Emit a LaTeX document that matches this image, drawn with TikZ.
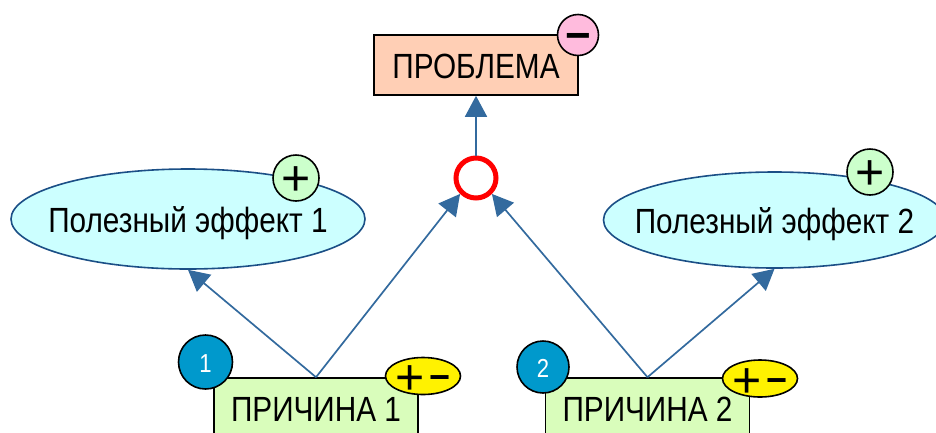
\documentclass[tikz,border=0pt]{standalone}
\usepackage{fontspec}
\setmainfont[FakeStretch=0.85]{Liberation Sans}
\newfontfamily\signfont{Liberation Sans}
\usetikzlibrary{arrows.meta}
\usetikzlibrary{shapes.geometric}
\newcommand{\smallminus}{\raisebox{5pt}{\fontsize{36}{36}\selectfont\bfseries −}}

\begin{document}
\begin{tikzpicture}[x=1pt,y=-1pt]
  \tikzset{myedge/.style={-{Triangle[length=21pt,width=22pt]}, draw=edgeblue, fill=edgeblue, line width=1.7pt}};
  \tikzset{mybox/.style={rectangle, draw=black, line width=1.6pt, minimum width=204pt, minimum height=60pt, inner sep=0pt, text height=27pt, text depth=0pt, font=\fontsize{35}{35}\selectfont}};
  \tikzset{myeffect/.style={ellipse, draw=effectblue, fill=effectfill, line width=1.6pt, inner xsep=-25pt, inner ysep=0pt, text height=27pt, text depth=0pt, font=\fontsize{35}{35}\selectfont}};
  \tikzset{mybadge/.style={circle, draw=black, line width=1.6pt, inner sep=0pt, minimum size=#1}};
  \tikzset{mysign/.style={ellipse, draw=black, fill=yellow, line width=1.6pt, inner xsep=-25pt, inner ysep=-12pt, minimum width=75pt, minimum height=37pt, text height=37.5pt, text depth=0pt, font=\signfont\fontsize{50}{50}\selectfont}};
  \definecolor{edgeblue}{HTML}{336A9E}
  \definecolor{effectblue}{HTML}{1B4F86}
  \definecolor{effectfill}{HTML}{CCFFFF}
  \definecolor{problemfill}{HTML}{FFCFB5}
  \definecolor{causefill}{HTML}{D9FDBB}
  \definecolor{plusfill}{HTML}{CCFFCC}
  \definecolor{minusfill}{HTML}{FFBBDD}
  \definecolor{numfill}{HTML}{0099CC}
  \useasboundingbox (0,0) rectangle (936,432);

  \node[mybox,fill=problemfill] (problem) at (476,65) {ПРОБЛЕМА};
  \node[circle, draw=red, fill=white, line width=5pt, minimum size=40pt, inner sep=0pt] (gate) at (476,178) {};

  \node[myeffect,minimum width=354pt,minimum height=100pt] (effect1) at (188,219) {Полезный эффект 1};
  \node[myeffect,minimum width=342pt,minimum height=96pt] (effect2) at (774.5,220) {Полезный эффект 2};

  \node[mybox,fill=causefill] (cause1) at (316,408) {ПРИЧИНА 1};
  \node[mybox,fill=causefill] (cause2) at (647.5,408) {ПРИЧИНА 2};

  \draw [myedge] (gate.north) -- (problem.south);
  \draw [myedge] (cause1.north) -- (effect1.south);
  \draw [myedge] (cause1.north) -- (gate.225);
  \draw [myedge] (cause2.north) -- (gate.315);
  \draw [myedge] (cause2.north) -- (effect2.south);

  % badges on top of the boxes
  \node[mybadge=41pt,fill=minusfill,text height=31pt,text depth=0pt,font=\signfont\bfseries\fontsize{44}{44}\selectfont] (minus) at (578,35) {−};
  \node[mybadge=46pt,fill=plusfill,text height=35.5pt,text depth=0pt,font=\signfont\fontsize{50}{50}\selectfont] (plus1) at (296,178) {+};
  \node[mybadge=46pt,fill=plusfill,text height=35.5pt,text depth=0pt,font=\signfont\fontsize{50}{50}\selectfont] (plus2) at (870,172) {+};
  \node[mybadge=54pt,fill=numfill,text=white,text height=21pt,text depth=0pt,font=\fontsize{26}{26}\selectfont] (num1) at (205.5,362) {1};
  \node[mybadge=52pt,fill=numfill,text=white,text height=21pt,text depth=0pt,font=\fontsize{26}{26}\selectfont] (num2) at (543,367) {2};
  \node[mysign] (sign1) at (423,376) {+\hspace{5pt}\smallminus};
  \node[mysign] (sign2) at (760,378.5) {+\hspace{5pt}\smallminus};
\end{tikzpicture}
\end{document}
